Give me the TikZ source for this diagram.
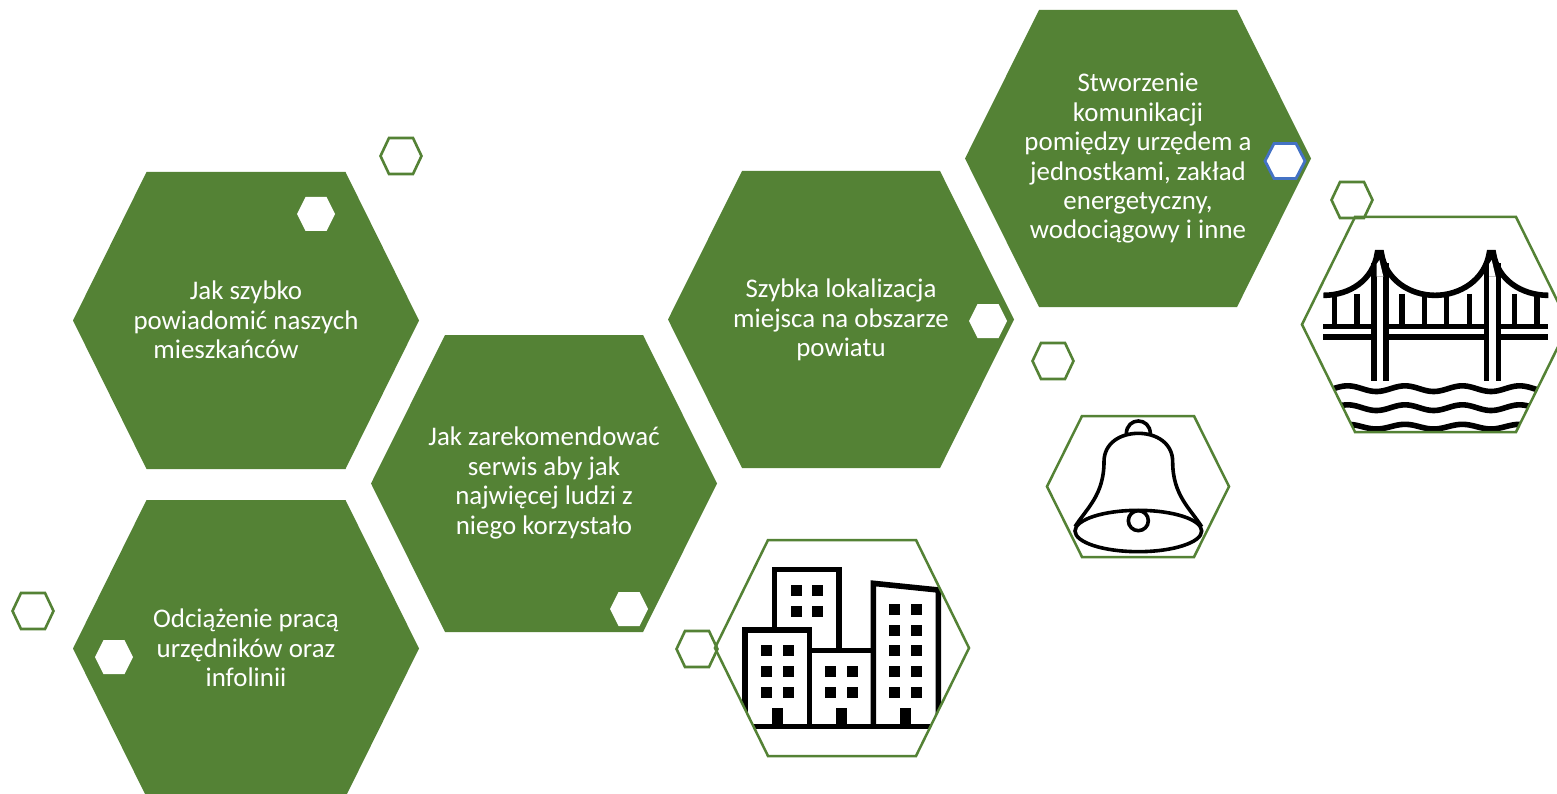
\documentclass[tikz,border=0pt]{standalone}
\usepackage{fontspec}
\setmainfont{Carlito}
\definecolor{hexgreen}{HTML}{548235}
\definecolor{hexblue}{HTML}{4472C4}
% cx, cy, half width, half height, half of the flat edge
\newcommand{\hexat}[5]{({#1-#3},#2) -- ({#1-#5},{#2-#4}) -- ({#1+#5},{#2-#4}) -- ({#1+#3},#2) -- ({#1+#5},{#2+#4}) -- ({#1-#5},{#2+#4}) -- cycle}
\tikzset{
  bighex/.style={fill=hexgreen,draw=none},
  framehex/.style={draw=hexgreen,line width=2.5pt,line join=miter},
  tinyhex/.style={draw=hexgreen,line width=2.6pt},
  whitehex/.style={fill=white,draw=none},
  bluehex/.style={fill=white,draw=hexblue,line width=2.8pt},
  hextext/.style={text=white,align=center,inner sep=0pt,font=\fontsize{26.9}{29.4}\selectfont},
  bold icon/.style={draw=black,line width=5.6pt,line join=miter,line cap=butt},
  thin icon/.style={draw=black,line width=3.6pt},
}
\begin{document}
\begin{tikzpicture}[x=1pt,y=-1pt]
\clip (0,0) rectangle (1557,794);
\fill[white] (0,0) rectangle (1557,794);
% large hexagons
\fill[bighex] \hexat{246}{320.5}{173}{148.5}{99.5};
\fill[bighex] \hexat{544}{483.5}{173}{148.5}{99};
\fill[bighex] \hexat{246}{648.5}{173}{148.5}{99.5};
\fill[bighex] \hexat{841}{319.5}{173}{148.5}{99};
\fill[bighex] \hexat{1138}{158.5}{173}{148.5}{99};
% bridge icon
\begin{scope}
\clip \hexat{1435.5}{324.5}{133.5}{107.5}{80.5};
\begin{scope}[shift={(1280,170)},scale=1/3]
\foreach \hx in {163,231,366,433,500,568,704,771}
  \draw[bold icon] (\hx,372) -- (\hx,470);
\draw[bold icon] (130,376) .. controls (210,376) and (280,330) .. (292,248) -- (304,248) .. controls (316,330) and (390,376) .. (465,376) .. controls (540,376) and (615,330) .. (628,248) -- (640,248) .. controls (652,330) and (725,376) .. (805,376);
\draw[bold icon] (130,470) -- (805,470);
\draw[bold icon] (130,501) -- (805,501);
\fill[white] (290,300) rectangle (310,632);
\fill[white] (627,300) rectangle (647,632);
\foreach \tx in {282,318,619,655}
  \draw[bold icon] (\tx,632) -- (\tx,280);
\fill[black] (289,245) -- (307,245) -- (325,320) -- (275,320) -- cycle;
\fill[black] (625,245) -- (643,245) -- (662,320) -- (612,320) -- cycle;
\fill[white] (290,320) -- (290,282) -- (298,270) -- (310,320) -- cycle;
\fill[white] (627,320) -- (627,282) -- (635,270) -- (647,320) -- cycle;
\draw[bold icon] plot[domain=150:790,samples=90] (\x,{656-8.5*cos((\x-375)/172*360)});
\draw[bold icon] plot[domain=170:770,samples=90] (\x,{713-8.5*cos((\x-375)/172*360)});
\draw[bold icon] plot[domain=200:740,samples=90] (\x,{770-7*cos((\x-375)/172*360)});
\end{scope}
\end{scope}
\draw[framehex] \hexat{1435.5}{324.5}{133.5}{107.5}{80.5};
% bell icon
\draw[framehex] \hexat{1138}{486.5}{91}{70.5}{56};
\begin{scope}[shift={(1030,400)},scale=1/3]
\draw[thin icon] (135,380) .. controls (170,325) and (222,285) .. (222,185) .. controls (222,130) and (270,100) .. (325,100) .. controls (380,100) and (428,130) .. (428,185) .. controls (428,285) and (480,325) .. (515,380);
\draw[thin icon] (289,102) .. controls (289,50) and (361,50) .. (361,102);
\draw[thin icon] (325,393) ellipse [x radius=190,y radius=62];
\draw[thin icon] (325,362) circle [radius=30];
\end{scope}
% city icon
\begin{scope}
\clip \hexat{842}{648}{127}{108}{74};
\begin{scope}[shift={(670,530)},scale=1/3]
\draw[bold icon] (313,300) -- (313,118) -- (507,118) -- (507,362);
\draw[bold icon] (225,590) -- (225,300) -- (418,300) -- (418,590);
\draw[bold icon] (418,362) -- (610,362);
\draw[bold icon] (610,590) -- (610,160) -- (805,180) -- (805,590);
\draw[bold icon] (200,590) -- (820,590);
\foreach \wx/\wy in {378/182,442/182,378/245,442/245,
  290/362,354/362,290/425,354/425,290/488,354/488,
  482/425,546/425,482/488,546/488,
  674/237,738/237,674/300,738/300,674/362,738/362,674/425,738/425,674/488,738/488}
  \fill[black] ({\wx-16.5},{\wy-16.5}) rectangle ({\wx+16.5},{\wy+16.5});
\foreach \dx in {322,514,706}
  \fill[black] ({\dx-16.5},535) rectangle ({\dx+16.5},590);
\end{scope}
\end{scope}
\draw[framehex] \hexat{842}{648}{127}{108}{74};
% small outlined hexagons
\draw[tinyhex] \hexat{401}{156}{20.5}{18}{12};
\draw[tinyhex] \hexat{33}{611}{20.5}{18}{12};
\draw[tinyhex] \hexat{697}{649}{20.5}{18}{12};
\draw[tinyhex] \hexat{1053}{361}{20.5}{18}{12};
\draw[tinyhex] \hexat{1352}{200}{20.5}{18}{12};
% small white hexagons
\fill[whitehex] \hexat{316}{214}{19}{17}{10.5};
\fill[whitehex] \hexat{114}{657}{19}{17}{10.5};
\fill[whitehex] \hexat{988}{321}{19}{17}{10.5};
\fill[whitehex] \hexat{629}{609}{19}{17}{10.5};
\draw[bluehex] \hexat{1285}{161}{20}{17.5}{11};
% texts
\node[hextext] (t1) at (246,320) {Jak szybko\\powiadomić naszych\\mieszkańców\hbox to 40pt{}};
\node[hextext] (t2) at (544,483) {Jak zarekomendować\\serwis aby jak\\najwięcej ludzi z\\niego korzystało};
\node[hextext] (t3) at (246,648) {Odciążenie pracą\\urzędników oraz\\infolinii};
\node[hextext] (t4) at (841,320) {Szybka lokalizacja\\miejsca na obszarze\\powiatu};
\node[hextext] (t5) at (1138,158.5) {Stworzenie\\komunikacji\\pomiędzy urzędem a\\jednostkami, zakład\\energetyczny,\\wodociągowy i inne};
\end{tikzpicture}
\end{document}
